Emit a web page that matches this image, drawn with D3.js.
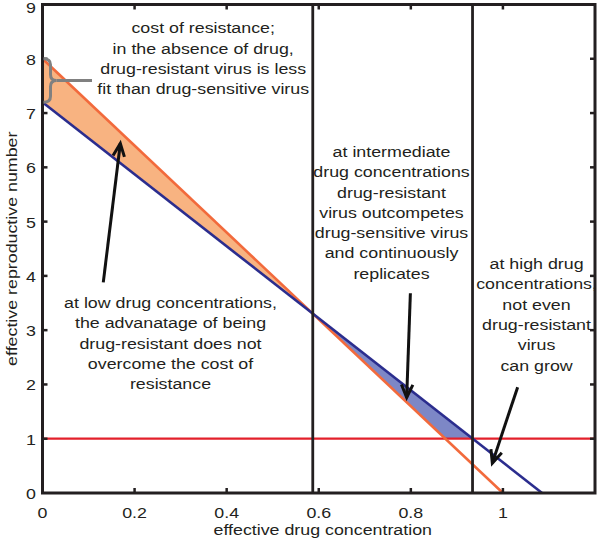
<!DOCTYPE html>
<html><head><meta charset="utf-8">
<script src="https://cdn.jsdelivr.net/npm/d3@7"></script>
<style>body{margin:0;background:#fff}svg{display:block;font-family:"Liberation Sans",Arial,Helvetica,sans-serif}</style>
</head><body><svg id="c" width="600" height="541"></svg>
<script>
// data
const sensitiveConc = [0, 1];
const sensitiveR = [8, 0];
const resistantConc = [0, 1.085];
const resistantR = [7.2, 0];
const thresholdR = 1;
const boundaryConc = [0.587, 0.934];
const xTicks = [0, 0.2, 0.4, 0.6, 0.8, 1];
const xTickLabels = ["0", "0.2", "0.4", "0.6", "0.8", "1"];
const yTicks = [0, 1, 2, 3, 4, 5, 6, 7, 8, 9];
const xDomain = [0, 1.2];
const yDomain = [0, 9];
const notes = [
  {lines: ["cost of resistance;", "in the absence of drug,", "drug-resistant virus is less", "fit than drug-sensitive virus"], cx: 0.349, cy: 8.01},
  {lines: ["at low drug concentrations,", "the advanatage of being", "drug-resistant does not", "overcome the cost of", "resistance"], cx: 0.278, cy: 2.76},
  {lines: ["at intermediate", "drug concentrations", "drug-resistant", "virus outcompetes", "drug-sensitive virus", "and continuously", "replicates"], cx: 0.758, cy: 5.17},
  {lines: ["at high drug", "concentrations,", "not even", "drug-resistant", "virus", "can grow"], cx: 1.073, cy: 3.29}
];
const arrows = [
  {from: [0.132, 3.88], to: [0.169, 6.44]},
  {from: [0.799, 3.68], to: [0.791, 1.76]},
  {from: [1.032, 1.95], to: [0.977, 0.55]}
];

const svg = d3.select("#c");
const L = 42.5, R = 595, T = 4.5, B = 493;
const x = d3.scaleLinear().domain(xDomain).range([L, R]);
const y = d3.scaleLinear().domain(yDomain).range([B, T]);
const ink = "#231f20";
const FS = 15.5, SX = 1.15;

function txt(parent, px, py, s, anchor, rot) {
  return parent.append("text")
    .attr("transform", `translate(${px},${py})${rot ? ` rotate(${rot})` : ""} scale(${SX},1)`)
    .attr("text-anchor", anchor || "middle").attr("font-size", FS).attr("fill", ink).text(s);
}

const lineFn = (cs, rs) => c => rs[0] + (rs[1] - rs[0]) * (c - cs[0]) / (cs[1] - cs[0]);
const sens = lineFn(sensitiveConc, sensitiveR);
const res = lineFn(resistantConc, resistantR);
const sa = (sensitiveR[1]-sensitiveR[0])/(sensitiveConc[1]-sensitiveConc[0]);
const ra = (resistantR[1]-resistantR[0])/(resistantConc[1]-resistantConc[0]);
const xi = (resistantR[0]-sensitiveR[0])/(sa-ra);
const cSensOne = sensitiveConc[0] + (thresholdR - sensitiveR[0]) / sa;
const cResOne = resistantConc[0] + (thresholdR - resistantR[0]) / ra;

const g = svg.append("g");
const lg = d3.line().x(d => x(d[0])).y(d => y(d[1]));

// fills
g.append("path").attr("d", lg([[0, sens(0)], [xi, sens(xi)], [0, res(0)]]) + "Z").attr("fill", "#f8b381");
g.append("path").attr("d", lg([[xi, res(xi)], [cResOne, thresholdR], [cSensOne, thresholdR], [xi, sens(xi)]]) + "Z").attr("fill", "#7d87c6");

// red line
g.append("line").attr("x1", x(xDomain[0])).attr("x2", x(xDomain[1])).attr("y1", y(thresholdR)).attr("y2", y(thresholdR)).attr("stroke", "#e3202b").attr("stroke-width", 2.2);

// colored lines
g.append("path").attr("d", lg(sensitiveConc.map((c, i) => [c, sensitiveR[i]]))).attr("stroke", "#f26a3c").attr("stroke-width", 2.6).attr("fill", "none");
g.append("path").attr("d", lg(resistantConc.map((c, i) => [c, resistantR[i]]))).attr("stroke", "#2b2d8e").attr("stroke-width", 2.6).attr("fill", "none");

// vertical boundaries
boundaryConc.forEach(c => g.append("line").attr("x1", x(c)).attr("x2", x(c)).attr("y1", y(0)).attr("y2", y(9)).attr("stroke", ink).attr("stroke-width", 2.8));

// axes box
svg.append("rect").attr("x", L).attr("y", T).attr("width", R - L).attr("height", B - T).attr("fill", "none").attr("stroke", ink).attr("stroke-width", 3);

const tl = 5;
const xt = svg.append("g");
xTicks.forEach((t, i) => {
  if (t > xDomain[0]) {
    xt.append("line").attr("x1", x(t)).attr("x2", x(t)).attr("y1", B).attr("y2", B - tl).attr("stroke", ink).attr("stroke-width", 2.5);
    xt.append("line").attr("x1", x(t)).attr("x2", x(t)).attr("y1", T).attr("y2", T + tl).attr("stroke", ink).attr("stroke-width", 2.5);
  }
  txt(xt, x(t), 518, xTickLabels[i], "middle");
});
yTicks.forEach(t => {
  if (t > yDomain[0] && t < yDomain[1]) {
    xt.append("line").attr("x1", L).attr("x2", L + tl).attr("y1", y(t)).attr("y2", y(t)).attr("stroke", ink).attr("stroke-width", 2.5);
    xt.append("line").attr("x1", R).attr("x2", R - tl).attr("y1", y(t)).attr("y2", y(t)).attr("stroke", ink).attr("stroke-width", 2.5);
  }
  txt(xt, 36, Math.max(y(t) + 6, 13), String(t), "end");
});

txt(svg, (L + R) / 2 + 4, 535, "effective drug concentration", "middle");
txt(svg, 17, (T + B) / 2, "effective reproductive number", "middle", -90);

// brace
const bx0 = x(0) + 1, bx1 = x(0) + 8, bx2 = x(0) + 14;
const by0 = y(sens(0)), by1 = y(res(0)), bym = (by0 + by1) / 2, r = 6;
svg.append("path").attr("d",
  `M${bx0},${by0} Q${bx1},${by0} ${bx1},${by0 + r} L${bx1},${bym - r} Q${bx1},${bym} ${bx2},${bym} Q${bx1},${bym} ${bx1},${bym + r} L${bx1},${by1 - r} Q${bx1},${by1} ${bx0},${by1}`)
  .attr("fill", "none").attr("stroke", "#808080").attr("stroke-width", 3);
svg.append("line").attr("x1", bx2).attr("x2", 92).attr("y1", bym).attr("y2", bym).attr("stroke", "#808080").attr("stroke-width", 3);

// notes
const lh = 20.3;
notes.forEach(n => {
  const y0 = y(n.cy) - (n.lines.length - 1) * lh / 2;
  n.lines.forEach((s, i) => txt(svg, x(n.cx), y0 + i * lh + 5.5, s, "middle"));
});

// arrows
arrows.forEach(a => {
  const x1 = x(a.from[0]), y1 = y(a.from[1]), x2 = x(a.to[0]), y2 = y(a.to[1]);
  const ang = Math.atan2(y2 - y1, x2 - x1), hl = 14, ha = 0.42;
  svg.append("line").attr("x1", x1).attr("y1", y1).attr("x2", x2).attr("y2", y2).attr("stroke", "#111").attr("stroke-width", 3);
  const p1 = [x2 - hl * Math.cos(ang - ha), y2 - hl * Math.sin(ang - ha)];
  const p2 = [x2 - hl * Math.cos(ang + ha), y2 - hl * Math.sin(ang + ha)];
  svg.append("path").attr("d", `M${p1[0]},${p1[1]} L${x2},${y2} L${p2[0]},${p2[1]}`).attr("fill", "none").attr("stroke", "#111").attr("stroke-width", 3).attr("stroke-linejoin", "miter");
});
</script></body></html>
